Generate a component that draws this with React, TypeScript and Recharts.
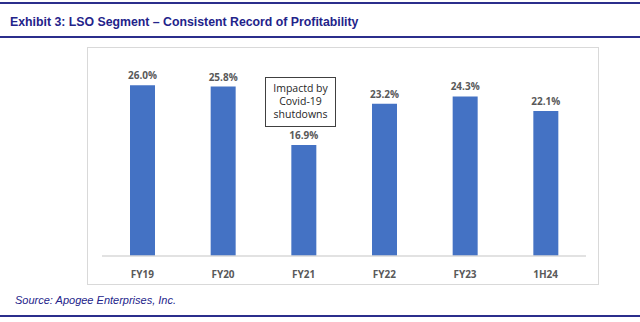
import React from "react";
import { BarChart, Bar, XAxis, YAxis, LabelList } from "recharts";

// LSO segment operating margin by fiscal period (%)
const periods = ["FY19", "FY20", "FY21", "FY22", "FY23", "1H24"];
const margins = [26.0, 25.8, 16.9, 23.2, 24.3, 22.1];

const data = periods.map((period, i) => ({ period, margin: margins[i] }));

const NAVY = "#2B2E8C";
const LABEL_GRAY = "#595959";

export default function App() {
  return (
    <div
      style={{
        position: "absolute",
        left: 0,
        top: 0,
        width: 640,
        height: 322,
        background: "#fff",
        overflow: "hidden",
        fontFamily: "'Liberation Sans', Arial, sans-serif",
      }}
    >
      {/* header rules and title */}
      <div style={{ position: "absolute", left: 0, top: 2, width: 640, height: 2, background: NAVY }} />
      <div
        style={{
          position: "absolute",
          left: 10,
          top: 15,
          fontSize: 12.3,
          fontWeight: "bold",
          color: "#23238A",
          whiteSpace: "nowrap",
        }}
      >
        Exhibit 3: LSO Segment – Consistent Record of Profitability
      </div>
      <div style={{ position: "absolute", left: 0, top: 36, width: 640, height: 2, background: NAVY }} />

      {/* chart frame */}
      <div
        style={{
          position: "absolute",
          left: 87,
          top: 47,
          width: 512,
          height: 238,
          boxSizing: "border-box",
          border: "1.5px solid #D9D9D9",
        }}
      />

      <div style={{ position: "absolute", left: 0, top: 0 }}>
        <BarChart
          width={640}
          height={322}
          data={data}
          margin={{ top: 59, right: 54, bottom: 38, left: 102 }}
        >
          <XAxis
            dataKey="period"
            height={28}
            tickLine={false}
            axisLine={{ stroke: "#D9D9D9", strokeWidth: 1.5 }}
            tick={{
              fill: LABEL_GRAY,
              fontSize: 10,
              fontWeight: "bold",
              fontFamily: "'Open Sans', sans-serif",
            }}
            tickMargin={9}
          />
          <YAxis hide domain={[0, 30]} />
          <Bar dataKey="margin" fill="#4472C4" barSize={25} isAnimationActive={false}>
            <LabelList
              dataKey="margin"
              position="top"
              offset={6}
              formatter={(v: number) => `${v.toFixed(1)}%`}
              style={{
                fill: LABEL_GRAY,
                fontSize: 10,
                fontWeight: "bold",
                fontFamily: "'Open Sans', sans-serif",
              }}
            />
          </Bar>
        </BarChart>
      </div>

      {/* annotation callout for FY21 */}
      <div
        style={{
          position: "absolute",
          left: 265,
          top: 77,
          width: 71,
          height: 50,
          boxSizing: "border-box",
          border: "1px solid #404040",
          background: "#fff",
          fontFamily: "'Open Sans', sans-serif",
          fontSize: 10.5,
          lineHeight: "13px",
          color: "#262626",
          textAlign: "center",
          paddingTop: 4,
        }}
      >
        Impactd by
        <br />
        Covid-19
        <br />
        shutdowns
      </div>

      {/* source line and footer rule */}
      <div
        style={{
          position: "absolute",
          left: 15,
          top: 294,
          fontSize: 11,
          fontStyle: "italic",
          color: "#23238A",
          whiteSpace: "nowrap",
        }}
      >
        Source: Apogee Enterprises, Inc.
      </div>
      <div style={{ position: "absolute", left: 0, top: 315, width: 640, height: 2, background: NAVY }} />
    </div>
  );
}
